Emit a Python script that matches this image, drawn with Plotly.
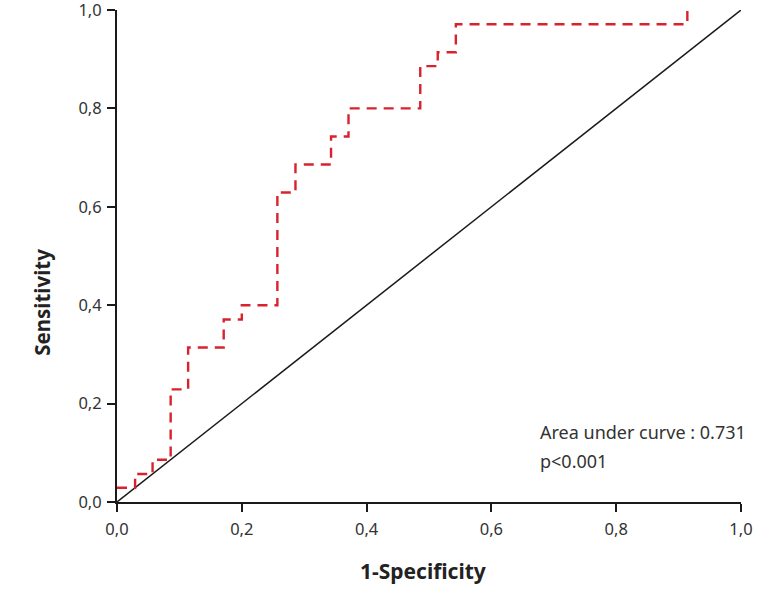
import plotly.graph_objects as go

# ROC curve step points (1-Specificity, Sensitivity)
fpr = [0.0, 0.029, 0.057, 0.086, 0.114, 0.171, 0.200, 0.257, 0.286, 0.343, 0.371, 0.486, 0.514, 0.543, 0.914]
tpr = [0.029, 0.057, 0.086, 0.229, 0.314, 0.371, 0.400, 0.629, 0.686, 0.743, 0.800, 0.886, 0.914, 0.971, 1.000]

ref_x = [0.0, 1.0]
ref_y = [0.0, 1.0]

tick_vals = [0.0, 0.2, 0.4, 0.6, 0.8, 1.0]
tick_text = ["0,0", "0,2", "0,4", "0,6", "0,8", "1,0"]

auc_text = "Area under curve : 0.731"
p_text = "p<0.001"

FONT = "Noto Sans"

fig = go.Figure()
fig.add_trace(go.Scatter(
    x=ref_x, y=ref_y, mode="lines",
    line=dict(color="#1a1a1a", width=1.5),
    showlegend=False, hoverinfo="skip",
))
fig.add_trace(go.Scatter(
    x=fpr, y=tpr, mode="lines", line_shape="hv",
    line=dict(color="#d8232f", width=2.4, dash="10px,7px"),
    showlegend=False, cliponaxis=False,
))

axis_common = dict(
    range=[0, 1],
    tickvals=tick_vals, ticktext=tick_text,
    showline=True, linecolor="#1a1a1a", linewidth=2,
    ticks="outside", ticklen=8, tickwidth=2, tickcolor="#1a1a1a",
    showgrid=False, zeroline=False, automargin=False,
    ticklabeloverflow="allow",
    tickfont=dict(family=FONT, size=16.5, color="#333333"),
)

fig.update_xaxes(**axis_common, ticklabelstandoff=3)
fig.update_yaxes(**axis_common, ticklabelstandoff=2)

fig.update_layout(
    width=778, height=594,
    margin=dict(l=117, r=37, t=10, b=92),
    paper_bgcolor="white", plot_bgcolor="white",
    annotations=[
        dict(text="<b>Sensitivity</b>", xref="paper", yref="paper",
             x=-0.1193, y=0.406, xanchor="center", yanchor="middle",
             textangle=-90, showarrow=False,
             font=dict(family=FONT, size=20.5, color="#222222")),
        dict(text="<b>1-Specificity</b>", xref="paper", yref="paper",
             x=0.4908, y=-0.140, xanchor="center", yanchor="middle",
             showarrow=False,
             font=dict(family=FONT, size=21, color="#222222")),
        dict(text=auc_text, xref="paper", yref="paper",
             x=0.675, y=0.142, xanchor="left", yanchor="middle",
             showarrow=False,
             font=dict(family=FONT, size=18, color="#333333")),
        dict(text=p_text, xref="paper", yref="paper",
             x=0.675, y=0.083, xanchor="left", yanchor="middle",
             showarrow=False,
             font=dict(family=FONT, size=18, color="#333333")),
    ],
)

fig.write_html(
    "out.html",
    config={"displayModeBar": False},
    post_script="document.body.style.margin='0';",
)
